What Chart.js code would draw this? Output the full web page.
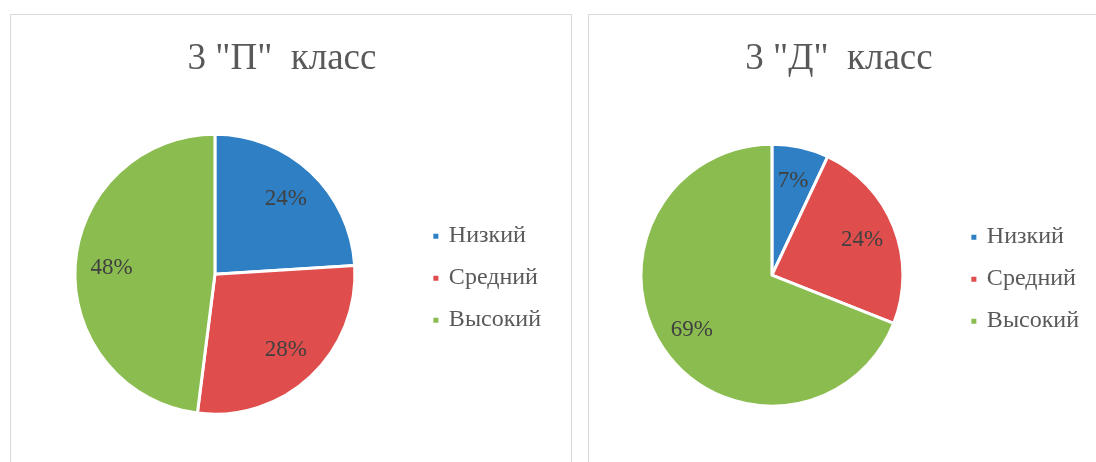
<!DOCTYPE html>
<html>
<head>
<meta charset="utf-8">
<script src="https://cdn.jsdelivr.net/npm/chart.js@4.4.1/dist/chart.umd.min.js"></script>
<style>
  html, body { margin: 0; padding: 0; background: #fff; width: 1096px; height: 462px; overflow: hidden; }
  .box { position: absolute; border: 1px solid #d9d9d9; background: #fff; }
  #boxP { left: 10px; top: 14px; width: 560px; height: 460px; }
  #boxD { left: 588px; top: 14px; width: 520px; height: 460px; }
  canvas { display: block; }
</style>
</head>
<body>
<div class="box" id="boxP"><canvas id="chartP" width="560" height="446"></canvas></div>
<div class="box" id="boxD"><canvas id="chartD" width="512" height="446"></canvas></div>
<script>
// Data
const categories = ["Низкий", "Средний", "Высокий"];
const classP = [24, 28, 48];
const classD = [7, 24, 69];
const titleP = '3 "П"  класс';
const titleD = '3 "Д"  класс';
const sliceColors = ["#2E7FC3", "#DF4E4C", "#8BBC50"];

// draws "NN%" inside every slice
const pctLabels = {
  id: "pctLabels",
  afterDatasetsDraw(chart) {
    const ctx = chart.ctx;
    const meta = chart.getDatasetMeta(0);
    const values = chart.data.datasets[0].data;
    ctx.save();
    ctx.font = "23px 'Liberation Serif'";
    ctx.fillStyle = "#404040";
    ctx.textAlign = "center";
    ctx.textBaseline = "middle";
    meta.data.forEach((arc, i) => {
      const p = arc.getProps(["x", "y", "startAngle", "endAngle", "outerRadius"], true);
      const mid = (p.startAngle + p.endAngle) / 2;
      const r = p.outerRadius * 0.74;
      ctx.fillText(values[i] + "%", p.x + Math.cos(mid) * r, p.y + Math.sin(mid) * r);
    });
    ctx.restore();
  }
};

function makePie(id, title, values, radius, pad) {
  return new Chart(document.getElementById(id), {
    type: "pie",
    data: {
      labels: categories,
      datasets: [{
        data: values,
        backgroundColor: sliceColors,
        borderColor: "#ffffff",
        borderWidth: 3
      }]
    },
    options: {
      responsive: false,
      animation: false,
      radius: radius,
      layout: { padding: pad },
      plugins: {
        title: {
          display: true,
          text: title,
          color: "#595959",
          font: { family: "'Liberation Serif'", size: 37, weight: "normal" },
          padding: { top: 22, bottom: 30 }
        },
        legend: {
          position: "right",
          fullSize: false,
          // small empty title just nudges the items down a few px
          title: { display: true, text: "", font: { size: 5 }, padding: 1 },
          labels: {
            color: "#595959",
            font: { family: "'Liberation Serif'", size: 24 },
            usePointStyle: true,
            pointStyle: "rect",
            boxWidth: 2,
            boxHeight: 8,
            padding: 18
          }
        },
        tooltip: { enabled: false }
      }
    },
    plugins: [pctLabels]
  });
}

makePie("chartP", titleP, classP, 140, { left: 2, right: 20, top: 0, bottom: 24 });
makePie("chartD", titleD, classD, 131, { left: 0, right: 12, top: 0, bottom: 22 });
</script>
</body>
</html>
